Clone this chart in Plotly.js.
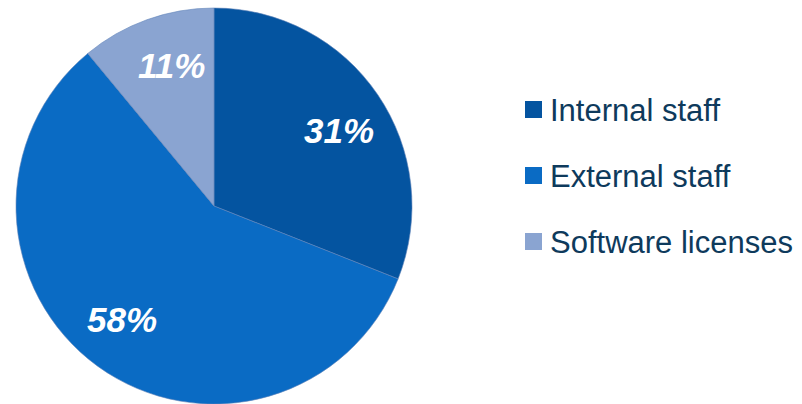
<!DOCTYPE html>
<html>
<head>
<meta charset="utf-8">
<script src="https://cdn.plot.ly/plotly-3.0.1.min.js"></script>
<style>html,body{margin:0;padding:0;background:#fff;}#chart{width:802px;height:404px;}</style>
</head>
<body>
<div id="chart"></div>
<script>
const categories = ["Internal staff", "External staff", "Software licenses"];
const shares = [31, 58, 11];
const sliceColors = ["#0454a0", "#0a6bc4", "#8aa4d1"];

const W = 802, H = 404;
const cx = 214, cy = 206, R = 198;
const px = (x) => x / W;
const py = (y) => (H - y) / H;

const annotations = [];
const shapes = [];
const total = shares.reduce((a, b) => a + b, 0);
let cum = 0;
shares.forEach((v, i) => {
  const mid = (cum + v / 2) / total * 2 * Math.PI + 3 * Math.PI / 180;
  cum += v;
  const r = 0.74 * R;
  annotations.push({
    xref: "paper", yref: "paper",
    x: px(cx + r * Math.sin(mid)), y: py(cy - r * Math.cos(mid)),
    text: "<b><i>" + v + "%</i></b>", showarrow: false,
    xanchor: "center", yanchor: "middle",
    font: {family: "Liberation Sans, Arial, sans-serif", size: 35, color: "#ffffff"}
  });
});

categories.forEach((c, i) => {
  const yc = 109.5 + i * 66;
  shapes.push({
    type: "rect", xref: "paper", yref: "paper",
    x0: px(525), x1: px(542), y0: py(yc + 8.5), y1: py(yc - 8.5),
    fillcolor: sliceColors[i], line: {width: 0}
  });
  annotations.push({
    xref: "paper", yref: "paper", x: px(548), y: py(yc + 1),
    text: c, showarrow: false, xanchor: "left", yanchor: "middle",
    font: {family: "Liberation Sans, Arial, sans-serif", size: 31, color: "#0e3a5c"}
  });
});

const data = [{
  type: "pie",
  labels: categories,
  values: shares,
  sort: false,
  direction: "clockwise",
  rotation: 0,
  textinfo: "none",
  hoverinfo: "label+percent",
  marker: {colors: sliceColors, line: {color: "#5f83b8", width: 0.6}},
  domain: {x: [px(cx - R), px(cx + R)], y: [py(cy + R), py(cy - R)]},
  showlegend: false
}];

const layout = {
  width: W, height: H,
  margin: {l: 0, r: 0, t: 0, b: 0},
  paper_bgcolor: "#ffffff",
  showlegend: false,
  annotations: annotations,
  shapes: shapes
};

Plotly.newPlot("chart", data, layout, {displayModeBar: false, staticPlot: true});
</script>
</body>
</html>
